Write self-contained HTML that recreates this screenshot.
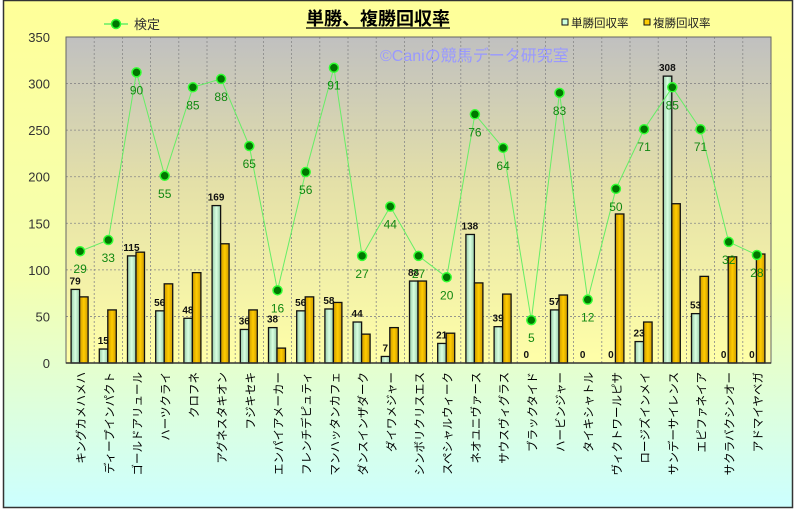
<!DOCTYPE html>
<html><head><meta charset="utf-8"><style>
html,body{margin:0;padding:0;background:#fff;width:796px;height:509px;overflow:hidden}
svg{display:block}
text{font-family:"Liberation Sans","Noto Sans CJK JP",sans-serif}
</style></head><body>
<svg id="c" width="796" height="509" xmlns="http://www.w3.org/2000/svg">
<defs>
<linearGradient id="bg" x1="0" y1="0" x2="0" y2="1"><stop offset="0" stop-color="#ffff99"/><stop offset="0.55" stop-color="#f4ffb0"/><stop offset="1" stop-color="#ccffff"/></linearGradient>
<linearGradient id="pa" x1="0" y1="0" x2="0" y2="1"><stop offset="0" stop-color="#c0c0c0"/><stop offset="0.45" stop-color="#e4e0a8"/><stop offset="1" stop-color="#ffffa8"/></linearGradient>
<linearGradient id="gb" x1="0" y1="0" x2="1" y2="0"><stop offset="0" stop-color="#99ccaa"/><stop offset="0.5" stop-color="#d8ffe0"/><stop offset="1" stop-color="#99ccaa"/></linearGradient>
<linearGradient id="yb" x1="0" y1="0" x2="1" y2="0"><stop offset="0" stop-color="#cc9900"/><stop offset="0.5" stop-color="#ffcc00"/><stop offset="1" stop-color="#cc9900"/></linearGradient>
</defs>
<rect x="3.5" y="0.5" width="789" height="507" fill="url(#bg)" stroke="#333" stroke-width="1.5"/>
<g id="g"></g>
</svg>
<script>
var names=["キングカメハメハ","ディープインパクト","ゴールドアリュール","ハーツクライ","クロフネ","アグネスタキオン","フジキセキ","エンパイアメーカー","フレンチデピュティ","マンハッタンカフェ","ダンスインザダーク","ダイワメジャー","シンボリクリスエス","スペシャルウィーク","ネオユニヴァース","サウスヴィグラス","ブラックタイド","ハービンジャー","タイキシャトル","ヴィクトワールピサ","ロージズインメイ","サンデーサイレンス","エピファネイア","サクラバクシンオー","アドマイヤベガ"];
var win=[79,15,115,56,48,169,36,38,56,58,44,7,88,21,138,39,0,57,0,0,23,308,53,0,0];
var pl=[71,57,119,85,97,128,57,16,71,65,31,38,88,32,86,74,0,73,0,160,44,171,93,114,117];
var ln=[120,132,312,201,296,305,233,78,205,317,115,168,115,92,267,231,46,290,68,187,251,296,251,130,116];
var lb=[29,33,90,55,85,88,65,16,56,91,27,44,27,20,76,64,5,83,12,50,71,85,71,32,28];
var L=66,R=771,T=37,B=363,cw=(R-L)/25,k=(B-T)/350;
function Y(v){return B-v*k}
var s='<rect x="'+L+'" y="'+T+'" width="'+(R-L)+'" height="'+(B-T)+'" fill="url(#pa)" stroke="#777"/>';
for(var v=50;v<350;v+=50)s+='<line x1="'+L+'" x2="'+R+'" y1="'+Y(v)+'" y2="'+Y(v)+'" stroke="#888" stroke-dasharray="2,2" stroke-width="0.8"/>';
for(var i=1;i<25;i++){var x=L+i*cw;s+='<line x1="'+x+'" x2="'+x+'" y1="'+T+'" y2="'+B+'" stroke="#888" stroke-dasharray="2,2" stroke-width="0.8"/>';}
for(var v=0;v<=350;v+=50)s+='<text x="50" y="'+(Y(v)+5)+'" font-size="13" text-anchor="end" fill="#333">'+v+'</text>';
s+='<text x="445" y="228" font-size="0"></text>';
s+='<text x="380" y="61" font-size="16" fill="#9999ff">©Caniの競馬データ研究室</text>';
for(var i=0;i<25;i++){var c=L+(i+0.5)*cw;
 if(win[i]>0)s+='<rect x="'+(c-9)+'" y="'+Y(win[i])+'" width="8.5" height="'+(win[i]*k)+'" fill="url(#gb)" stroke="#111" stroke-width="1.3"/>';
 if(pl[i]>0)s+='<rect x="'+(c-0.5)+'" y="'+Y(pl[i])+'" width="8.5" height="'+(pl[i]*k)+'" fill="url(#yb)" stroke="#111" stroke-width="1.3"/>';
 s+='<text x="'+(c-5)+'" y="'+(Y(win[i])-5)+'" font-size="10" font-weight="bold" text-anchor="middle" fill="#111">'+win[i]+'</text>';
 s+='<text transform="translate('+(c+5)+',372) rotate(-90)" font-size="11.5" text-anchor="end" fill="#000">'+names[i]+'</text>';
}
s+='<rect x="'+L+'" y="'+T+'" width="'+(R-L)+'" height="'+(B-T)+'" fill="none" stroke="#666"/>';
s+='<line x1="'+L+'" x2="'+R+'" y1="'+B+'" y2="'+B+'" stroke="#333" stroke-width="1.5"/>';
var p='';for(var i=0;i<25;i++)p+=(L+(i+0.5)*cw)+','+Y(ln[i])+' ';
s+='<polyline points="'+p+'" fill="none" stroke="#66ee66" stroke-width="1"/>';
for(var i=0;i<25;i++){var c=L+(i+0.5)*cw;
 s+='<circle cx="'+c+'" cy="'+Y(ln[i])+'" r="4.5" fill="#007700" stroke="#33ff33" stroke-width="1.5"/>';
 s+='<text x="'+c+'" y="'+(Y(ln[i])+22)+'" font-size="12" text-anchor="middle" fill="#118811">'+lb[i]+'</text>';}
s+='<line x1="104" x2="128" y1="24" y2="24" stroke="#66ee66" stroke-width="1.5"/><circle cx="116" cy="24" r="4.5" fill="#007700" stroke="#33ff33" stroke-width="1.5"/>';
s+='<text x="134" y="29" font-size="13" fill="#333">検定</text>';
s+='<text x="306" y="25" font-size="18" font-weight="bold" fill="#000">単勝、複勝回収率</text><line x1="306" x2="450" y1="28" y2="28" stroke="#000" stroke-width="1.2"/>';
s+='<rect x="562" y="19" width="6" height="6" fill="#ccffdd" stroke="#111"/><text x="571" y="27" font-size="11.5" fill="#222">単勝回収率</text>';
s+='<rect x="644" y="19" width="6" height="6" fill="#ffcc00" stroke="#111"/><text x="653" y="27" font-size="11.5" fill="#222">複勝回収率</text>';
document.getElementById('g').innerHTML=s;
</script>
</body></html>
